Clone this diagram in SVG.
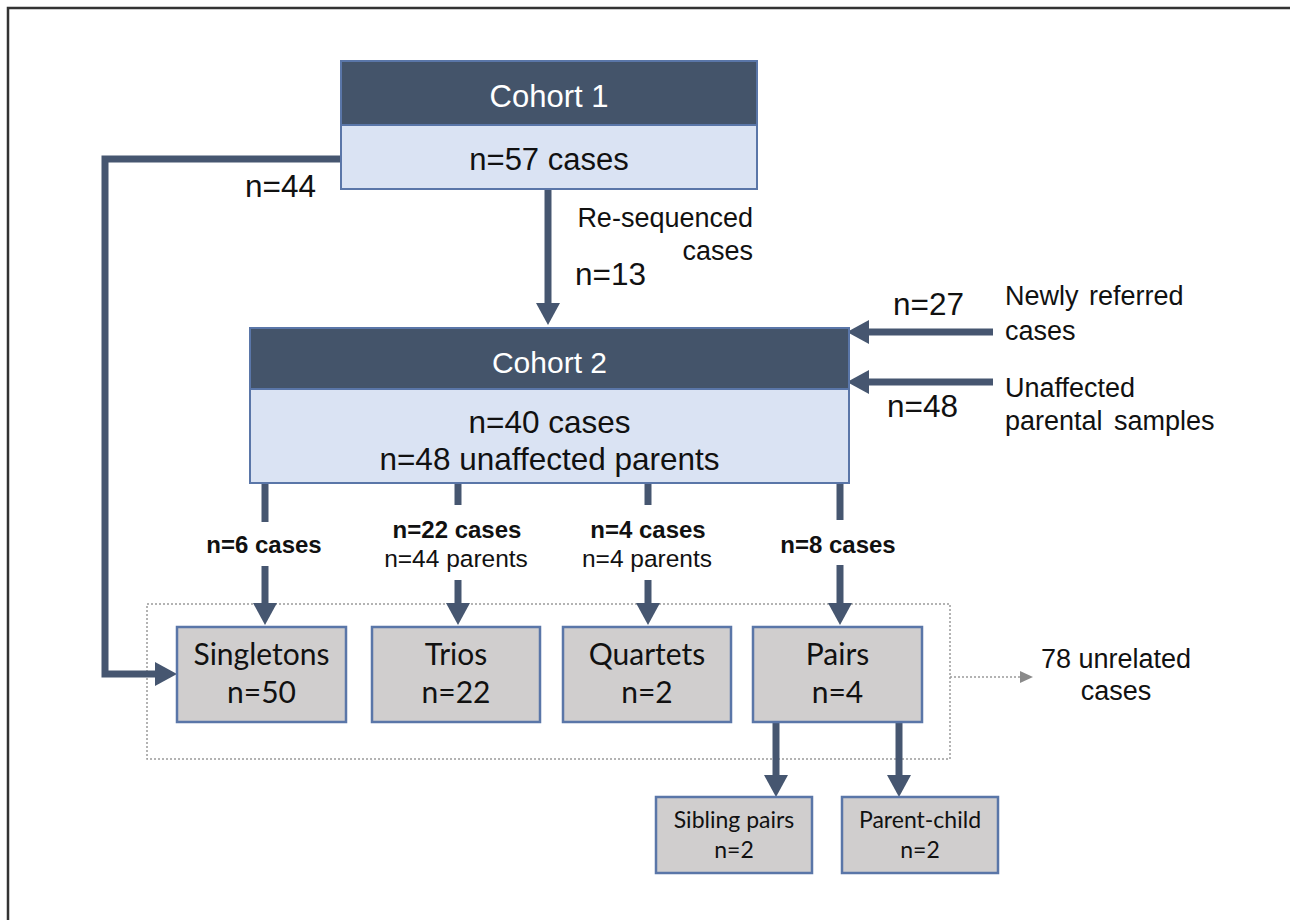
<svg xmlns="http://www.w3.org/2000/svg" width="1290" height="920" viewBox="0 0 1290 920">
  <defs>
    <style>
      .sans { font-family: "Liberation Sans", Arial, sans-serif; fill: #111; }
      .cal { font-family: Lato, "Liberation Sans", sans-serif; fill: #111; }
      .hdr { fill: #44546A; stroke: #5A76A8; stroke-width: 2; }
      .body { fill: #DAE3F3; stroke: #5A76A8; stroke-width: 2; }
      .gbox { fill: #D0CECE; stroke: #5A76A8; stroke-width: 2.5; }
      .conn { fill: none; stroke: #465670; stroke-width: 7; }
    </style>
    <marker id="ah" markerUnits="userSpaceOnUse" viewBox="0 0 22 24" refX="0" refY="12" markerWidth="22" markerHeight="24" orient="auto">
      <path d="M0,0 L22,12 L0,24 Z" fill="#465670"/>
    </marker>
    <marker id="gh" markerUnits="userSpaceOnUse" viewBox="0 0 13 12" refX="0" refY="6" markerWidth="13" markerHeight="12" orient="auto">
      <path d="M0,0 L13,6 L0,12 Z" fill="#8a8a8a"/>
    </marker>
  </defs>

  <rect x="0" y="0" width="1290" height="920" fill="#ffffff"/>
  <rect x="8" y="8" width="1300" height="1000" fill="none" stroke="#333" stroke-width="2.5"/>

  <rect id="group-frame" x="147" y="604" width="803" height="155" fill="none" stroke="#9a9a9a" stroke-width="1.5" stroke-dasharray="2,2"/>

  <g id="connectors">
    <path class="conn" d="M341,159 H105 V674 H155" marker-end="url(#ah)"/>
    <path class="conn" d="M548,189 V303" marker-end="url(#ah)"/>
    <path class="conn" d="M993,332 H869" marker-end="url(#ah)"/>
    <path class="conn" d="M993,382 H869" marker-end="url(#ah)"/>
    <path class="conn" d="M265,483 V522"/>
    <path class="conn" d="M265,566 V603" marker-end="url(#ah)"/>
    <path class="conn" d="M458,483 V505"/>
    <path class="conn" d="M458,580 V603" marker-end="url(#ah)"/>
    <path class="conn" d="M648,483 V505"/>
    <path class="conn" d="M648,580 V603" marker-end="url(#ah)"/>
    <path class="conn" d="M840,483 V520"/>
    <path class="conn" d="M840,565 V603" marker-end="url(#ah)"/>
    <path class="conn" d="M776,722 V775" marker-end="url(#ah)"/>
    <path class="conn" d="M899,722 V775" marker-end="url(#ah)"/>
    <path d="M950,677 H1020" fill="none" stroke="#9a9a9a" stroke-width="1.5" stroke-dasharray="2,2" marker-end="url(#gh)"/>
  </g>

  <g id="cohort1">
    <rect class="hdr" x="341" y="61" width="416" height="64"/>
    <rect class="body" x="341" y="125" width="416" height="64"/>
    <text class="sans" x="549" y="107" font-size="31" text-anchor="middle" style="fill:#fff">Cohort 1</text>
    <text class="sans" x="549" y="170" font-size="31" text-anchor="middle">n=57 cases</text>
  </g>

  <g id="cohort2">
    <rect class="hdr" x="250" y="328" width="599" height="61"/>
    <rect class="body" x="250" y="389" width="599" height="94"/>
    <text class="sans" x="549.5" y="373" font-size="30" text-anchor="middle" style="fill:#fff">Cohort 2</text>
    <text class="sans" x="549.5" y="433" font-size="31.5" text-anchor="middle">n=40 cases</text>
    <text class="sans" x="549.5" y="470" font-size="31.5" text-anchor="middle">n=48 unaffected parents</text>
  </g>

  <g id="labels">
    <text class="sans" x="245" y="197" font-size="31.5">n=44</text>
    <text class="sans" x="753" y="227" font-size="27" text-anchor="end">Re-sequenced</text>
    <text class="sans" x="753" y="260" font-size="27" text-anchor="end">cases</text>
    <text class="sans" x="575" y="285" font-size="31.5">n=13</text>
    <text class="sans" x="893" y="315" font-size="31.5">n=27</text>
    <text class="sans" x="887" y="417" font-size="31.5">n=48</text>
    <text class="sans" x="1005" y="305" font-size="27" word-spacing="3">Newly referred</text>
    <text class="sans" x="1005" y="340" font-size="27">cases</text>
    <text class="sans" x="1005" y="397" font-size="27">Unaffected</text>
    <text class="sans" x="1005" y="430" font-size="27" word-spacing="4">parental samples</text>
    <text class="sans" x="264" y="553" font-size="24" font-weight="bold" text-anchor="middle">n=6 cases</text>
    <text class="sans" x="457" y="538" font-size="24" font-weight="bold" text-anchor="middle">n=22 cases</text>
    <text class="sans" x="456" y="567" font-size="24.5" text-anchor="middle">n=44 parents</text>
    <text class="sans" x="648" y="538" font-size="24" font-weight="bold" text-anchor="middle">n=4 cases</text>
    <text class="sans" x="647" y="567" font-size="24.5" text-anchor="middle">n=4 parents</text>
    <text class="sans" x="838" y="553" font-size="24" font-weight="bold" text-anchor="middle">n=8 cases</text>
    <text class="sans" x="1116" y="668" font-size="27" text-anchor="middle">78 unrelated</text>
    <text class="sans" x="1116" y="700" font-size="27" text-anchor="middle">cases</text>
  </g>

  <g id="singletons">
    <rect class="gbox" x="177" y="627" width="169" height="95"/>
    <text class="cal" x="261.5" y="665" font-size="30" text-anchor="middle">Singletons</text>
    <text class="cal" x="261.5" y="703" font-size="30" text-anchor="middle">n=50</text>
  </g>
  <g id="trios">
    <rect class="gbox" x="372" y="627" width="168" height="95"/>
    <text class="cal" x="456" y="665" font-size="30" text-anchor="middle">Trios</text>
    <text class="cal" x="456" y="703" font-size="30" text-anchor="middle">n=22</text>
  </g>
  <g id="quartets">
    <rect class="gbox" x="563" y="627" width="168" height="95"/>
    <text class="cal" x="647" y="665" font-size="30" text-anchor="middle">Quartets</text>
    <text class="cal" x="647" y="703" font-size="30" text-anchor="middle">n=2</text>
  </g>
  <g id="pairs">
    <rect class="gbox" x="753" y="627" width="169" height="95"/>
    <text class="cal" x="837.5" y="665" font-size="30" text-anchor="middle">Pairs</text>
    <text class="cal" x="837.5" y="703" font-size="30" text-anchor="middle">n=4</text>
  </g>
  <g id="sibling-pairs">
    <rect class="gbox" x="656" y="797" width="156" height="76"/>
    <text class="cal" x="734" y="828" font-size="23" text-anchor="middle">Sibling pairs</text>
    <text class="cal" x="734" y="858" font-size="23" text-anchor="middle">n=2</text>
  </g>
  <g id="parent-child">
    <rect class="gbox" x="842" y="797" width="156" height="76"/>
    <text class="cal" x="920" y="828" font-size="23" text-anchor="middle">Parent-child</text>
    <text class="cal" x="920" y="858" font-size="23" text-anchor="middle">n=2</text>
  </g>
</svg>
